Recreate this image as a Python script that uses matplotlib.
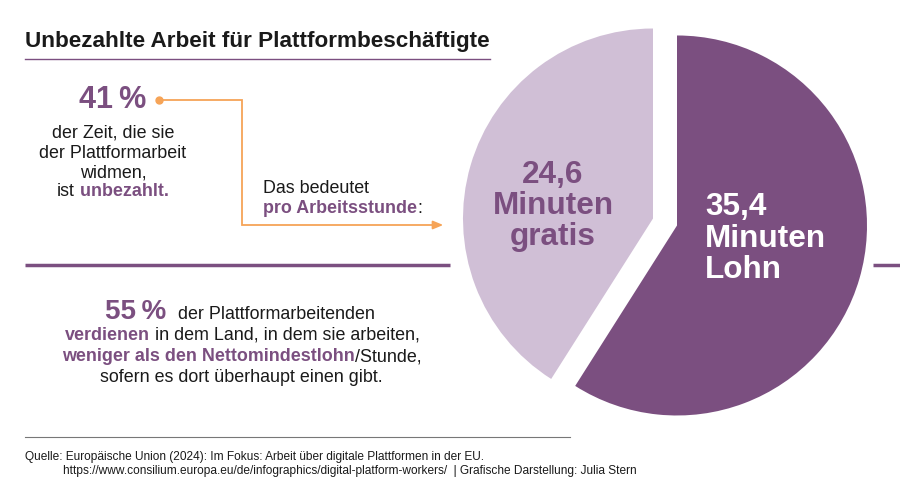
import matplotlib as mpl
mpl.use('Agg')
from matplotlib import pyplot as plt

# Data
minutes = [35.4, 24.6]
slice_labels = [['35,4', 'Minuten', 'Lohn'], ['24,6', 'Minuten', 'gratis']]
share_unpaid = '41\u2009%'
share_low_pay = '55\u2009%'

title = 'Unbezahlte Arbeit für Plattformbeschäftigte'
source_1 = 'Quelle: Europäische Union (2024): Im Fokus: Arbeit über digitale Plattformen in der EU.'
source_2 = 'https://www.consilium.europa.eu/de/infographics/digital-platform-workers/  | Grafische Darstellung: Julia Stern'

DARK = '#7b4f80'
LIGHT = '#d0bfd6'
ORANGE = '#f6a457'
BLACK = '#1a1a1a'
BODY = 12.9

plt.rcParams['font.family'] = ['Liberation Sans', 'DejaVu Sans']

fig = plt.figure(figsize=(9, 4.95), dpi=100)
ax = fig.add_axes([0, 0, 1, 1])
renderer = fig.canvas.get_renderer()


def rich_line(x, y, parts, size, ha='center'):
    # parts: list of (text, bold, color); placed one after another on one baseline
    texts = []
    for s, bold, color in parts:
        t = ax.text(0, y, s, fontsize=size, fontweight='bold' if bold else 'normal',
                    color=color, ha='left', va='baseline')
        texts.append(t)
    widths = [t.get_window_extent(renderer).width for t in texts]
    total = sum(widths)
    cur = x - total / 2 if ha == 'center' else x
    for t, w in zip(texts, widths):
        t.set_x(cur)
        cur += w


# pie, starting at 12 o'clock, running clockwise (y axis is inverted)
# explode is given in data units (pixels here)
wedges, _ = ax.pie(minutes, colors=[DARK, LIGHT], startangle=-90, counterclock=True,
                   center=(665, 222), radius=190, explode=[12.5, 12.5],
                   wedgeprops=dict(linewidth=0), frame=True)
ax.set_xlim(0, 900)
ax.set_ylim(495, 0)
ax.set_aspect('equal')
ax.axis('off')

# title + rule
ax.text(25, 47, title, fontsize=16.2, fontweight='bold', color=BLACK, ha='left', va='baseline')
ax.plot([25, 490], [59, 59], color=DARK, lw=1)

for i, yy in enumerate([215, 247, 278]):
    ax.text(705, yy, slice_labels[0][i], fontsize=22.7, fontweight='bold', color='white',
            ha='left', va='baseline')
for i, yy in enumerate([183, 214, 245]):
    ax.text(553, yy, slice_labels[1][i], fontsize=22.7, fontweight='bold', color=DARK,
            ha='center', va='baseline')

# 41 % block
ax.text(113, 108, share_unpaid, fontsize=22, fontweight='bold', color=DARK, ha='center', va='baseline')
for yy, line in zip([138, 158, 177], ['der Zeit, die sie', 'der Plattformarbeit', 'widmen,']):
    ax.text(113, yy, line, fontsize=BODY, color=BLACK, ha='center', va='baseline')
rich_line(113, 196, [('ist', False, BLACK), (' unbezahlt.', True, DARK)], BODY)

# orange connector
ax.plot([159, 242, 242, 436], [100, 100, 225, 225], color=ORANGE, lw=1.3, solid_joinstyle='miter')
ax.plot([159], [100], 'o', color=ORANGE, ms=5)
ax.annotate('', xy=(446, 225), xytext=(432, 225),
            arrowprops=dict(arrowstyle='-|>,head_length=0.6,head_width=0.25', color=ORANGE, lw=1.3))

ax.text(263, 193, 'Das bedeutet', fontsize=BODY, color=BLACK, ha='left', va='baseline')
rich_line(263, 213, [('pro Arbeitsstunde', True, DARK), (':', False, BLACK)], BODY, ha='left')

# divider
ax.plot([25, 450], [265, 265], color=DARK, lw=2.5, solid_capstyle='butt')
ax.plot([873, 900], [265, 265], color=DARK, lw=2.5, solid_capstyle='butt')

# 55 % block
ax.text(105, 319, share_low_pay, fontsize=20, fontweight='bold', color=DARK, ha='left', va='baseline')
ax.text(178, 319, 'der Plattformarbeitenden', fontsize=BODY, color=BLACK, ha='left', va='baseline')
rich_line(65, 340, [('verdienen', True, DARK), (' in dem Land, in dem sie arbeiten,', False, BLACK)], BODY, ha='left')
rich_line(62, 361, [('weniger als den Nettomindestlohn', True, DARK), ('/Stunde,', False, BLACK)], BODY, ha='left')
rich_line(100, 382, [('sofern es dort überhaupt einen gibt.', False, BLACK)], BODY, ha='left')

# footer
ax.plot([25, 570], [437, 437], color='#777777', lw=0.8)
ax.text(25, 460, source_1, fontsize=8.6, color=BLACK, ha='left', va='baseline')
ax.text(63, 474, source_2, fontsize=8.6, color=BLACK, ha='left', va='baseline')

fig.savefig('out.png', dpi=100)
